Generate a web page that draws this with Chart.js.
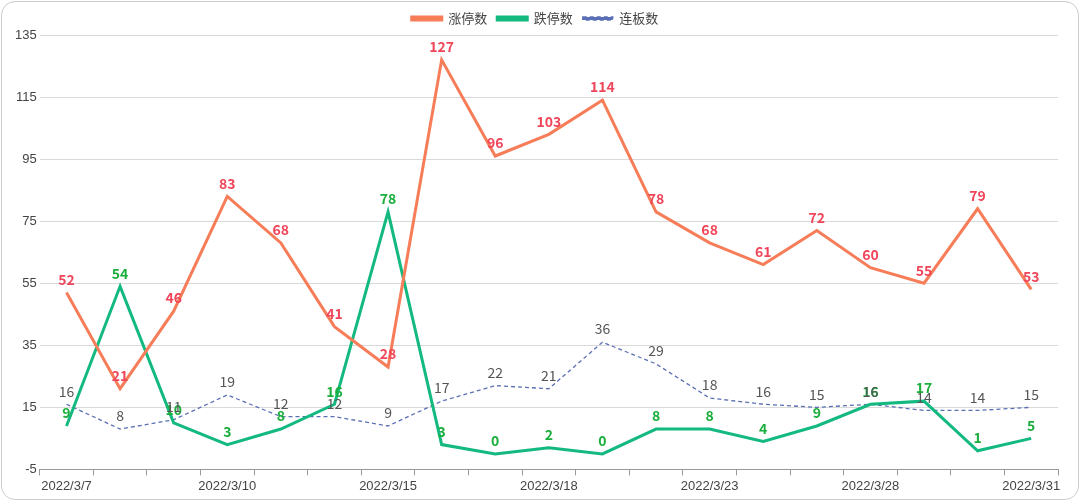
<!DOCTYPE html><html><head><meta charset="utf-8">
<script src="https://cdn.jsdelivr.net/npm/chart.js@4"></script>
<style>html,body{margin:0;background:#fff}#w{position:absolute;left:1px;top:1px;width:1076px;height:497px;border:1px solid #ccc;border-radius:14px;overflow:hidden}</style>
</head><body><div id="w"><canvas id="c" width="1076" height="497"></canvas></div><script>
const categories=["2022/3/7","2022/3/8","2022/3/9","2022/3/10","2022/3/11","2022/3/14","2022/3/15","2022/3/16","2022/3/17","2022/3/18","2022/3/21","2022/3/22","2022/3/23","2022/3/24","2022/3/25","2022/3/28","2022/3/29","2022/3/30","2022/3/31"];
const upLimit=[52,21,46,83,68,41,28,127,96,103,114,78,68,61,72,60,55,79,53];
const downLimit=[9,54,10,3,8,16,78,3,0,2,0,8,8,4,9,16,17,1,5];
const consecutive=[16,8,11,19,12,12,9,17,22,21,36,29,18,16,15,16,14,14,15];
const labelsPlugin={id:'lbl',afterDatasetsDraw(ch){const c=ch.ctx;ch.data.datasets.forEach((ds,i)=>{const m=ch.getDatasetMeta(i);c.save();c.fillStyle=ds.lblColor;c.font=(ds.lblBold?'bold ':'')+'14px "Noto Sans CJK SC",sans-serif';c.textAlign='center';c.textBaseline='bottom';m.data.forEach((p,j)=>c.fillText(ds.data[j],p.x,p.y-6));c.restore();});}};
new Chart(document.getElementById('c'),{type:'line',data:{labels:categories,datasets:[
{label:'涨停数',data:upLimit,borderColor:'#f77c58',backgroundColor:'#f77c58',borderWidth:3,pointRadius:0,tension:0,lblColor:'#f0465a',lblBold:true},
{label:'跌停数',data:downLimit,borderColor:'#13b97f',backgroundColor:'#13b97f',borderWidth:3,pointRadius:0,tension:0,lblColor:'#1aae3c',lblBold:true},
{label:'连板数',data:consecutive,borderColor:'#5b6fb5',backgroundColor:'#5b6fb5',borderWidth:1.3,borderDash:[4,3],pointRadius:0,tension:0,lblColor:'#555',lblBold:false}]},
options:{responsive:false,devicePixelRatio:1,animation:false,layout:{padding:{top:0,right:20,left:10,bottom:2}},
plugins:{legend:{labels:{boxWidth:30,boxHeight:3,font:{size:13,family:'"Noto Sans CJK SC"'},color:'#444',padding:10}},tooltip:{enabled:false}},
scales:{x:{offset:true,grid:{offset:true,display:true,drawOnChartArea:false,tickLength:6,color:'#999'},border:{color:'#999'},ticks:{autoSkip:false,maxRotation:0,color:'#444',font:{size:13},callback:(v,i)=>i%3===0?categories[i]:''}},
y:{min:-5,max:135,ticks:{stepSize:20,color:'#444',font:{size:13}},grid:{color:'#d9d9d9',drawTicks:false},border:{display:false}}}},plugins:[labelsPlugin]});
</script></body></html>
